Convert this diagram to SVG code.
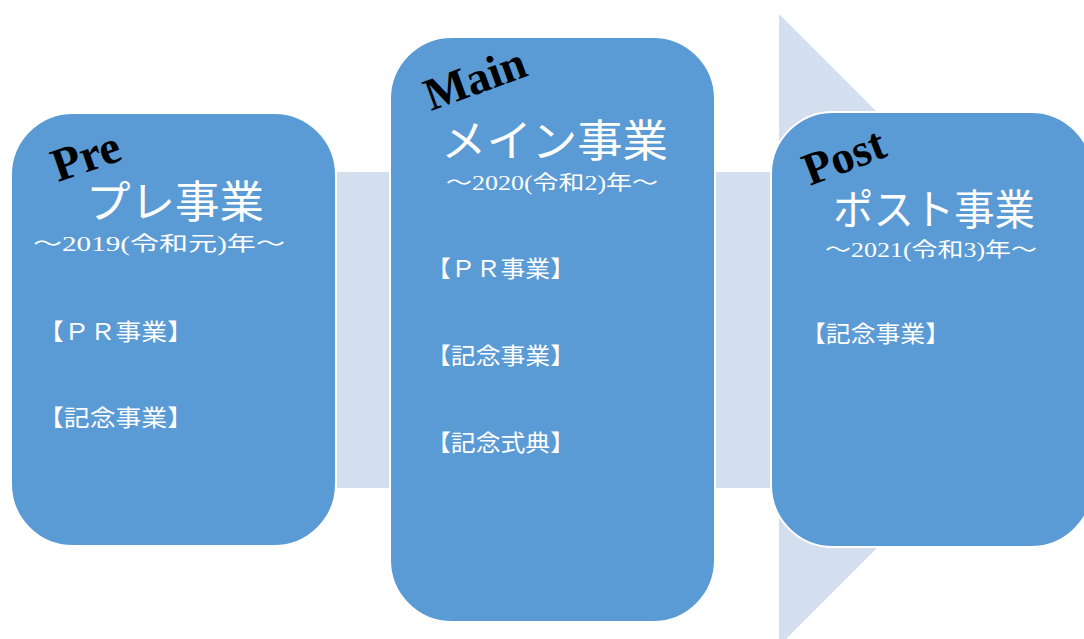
<svg xmlns="http://www.w3.org/2000/svg" width="1084" height="639" viewBox="0 0 1084 639">
<style>
.box{fill:#5B9BD5;stroke:#FFFFFF;stroke-width:2}
.band{fill:#D3DEEF}
.lat{font-family:"Liberation Serif","Times New Roman",serif;font-weight:bold;fill:#000000}
.ttl{font-family:"Liberation Serif","Noto Sans CJK JP",serif;fill:#FFFFFF}
.yr{font-family:"Liberation Serif","Noto Sans CJK JP",serif;fill:#FFFFFF;font-size:20px}
.item{font-family:"Liberation Serif","Noto Sans CJK JP",serif;fill:#FFFFFF;font-size:23px}
</style>
<rect width="1084" height="639" fill="#FFFFFF"/>
<g id="connectors">
<polygon class="band" points="337,172 779,172 779,14 1095,330 779,646 779,488 337,488"/>
</g>
<g id="pre">
<rect class="box" x="11" y="113" width="325" height="433" rx="62" ry="62"/>
<text class="lat" font-size="47" transform="translate(58,182) rotate(-19)">Pre</text>
<text class="ttl" font-size="44" x="86" y="218" textLength="178" lengthAdjust="spacingAndGlyphs">プレ事業</text>
<text class="yr" x="33" y="251" textLength="252" lengthAdjust="spacingAndGlyphs">～2019(令和元)年～</text>
<text class="item" x="38" y="340" textLength="155" lengthAdjust="spacingAndGlyphs">【ＰＲ事業】</text>
<text class="item" x="38" y="426" textLength="155" lengthAdjust="spacingAndGlyphs">【記念事業】</text>
</g>
<g id="main">
<rect class="box" x="390" y="37" width="325" height="585" rx="62" ry="62"/>
<text class="lat" font-size="46" transform="translate(431,111) rotate(-20)">Main</text>
<text class="ttl" font-size="44" x="441" y="157" textLength="227" lengthAdjust="spacingAndGlyphs">メイン事業</text>
<text class="yr" x="446" y="190" textLength="212" lengthAdjust="spacingAndGlyphs">～2020(令和2)年～</text>
<text class="item" x="426" y="277" textLength="149" lengthAdjust="spacingAndGlyphs">【ＰＲ事業】</text>
<text class="item" x="426" y="364" textLength="149" lengthAdjust="spacingAndGlyphs">【記念事業】</text>
<text class="item" x="426" y="451" textLength="149" lengthAdjust="spacingAndGlyphs">【記念式典】</text>
</g>
<g id="post">
<rect class="box" x="771" y="112" width="322" height="435" rx="62" ry="62"/>
<text class="lat" font-size="46" transform="translate(810,186) rotate(-21)">Post</text>
<text class="ttl" font-size="42" x="833" y="225" textLength="202" lengthAdjust="spacingAndGlyphs">ポスト事業</text>
<text class="yr" x="825" y="257" textLength="212" lengthAdjust="spacingAndGlyphs">～2021(令和3)年～</text>
<text class="item" x="801" y="342" textLength="149" lengthAdjust="spacingAndGlyphs">【記念事業】</text>
</g>
</svg>
